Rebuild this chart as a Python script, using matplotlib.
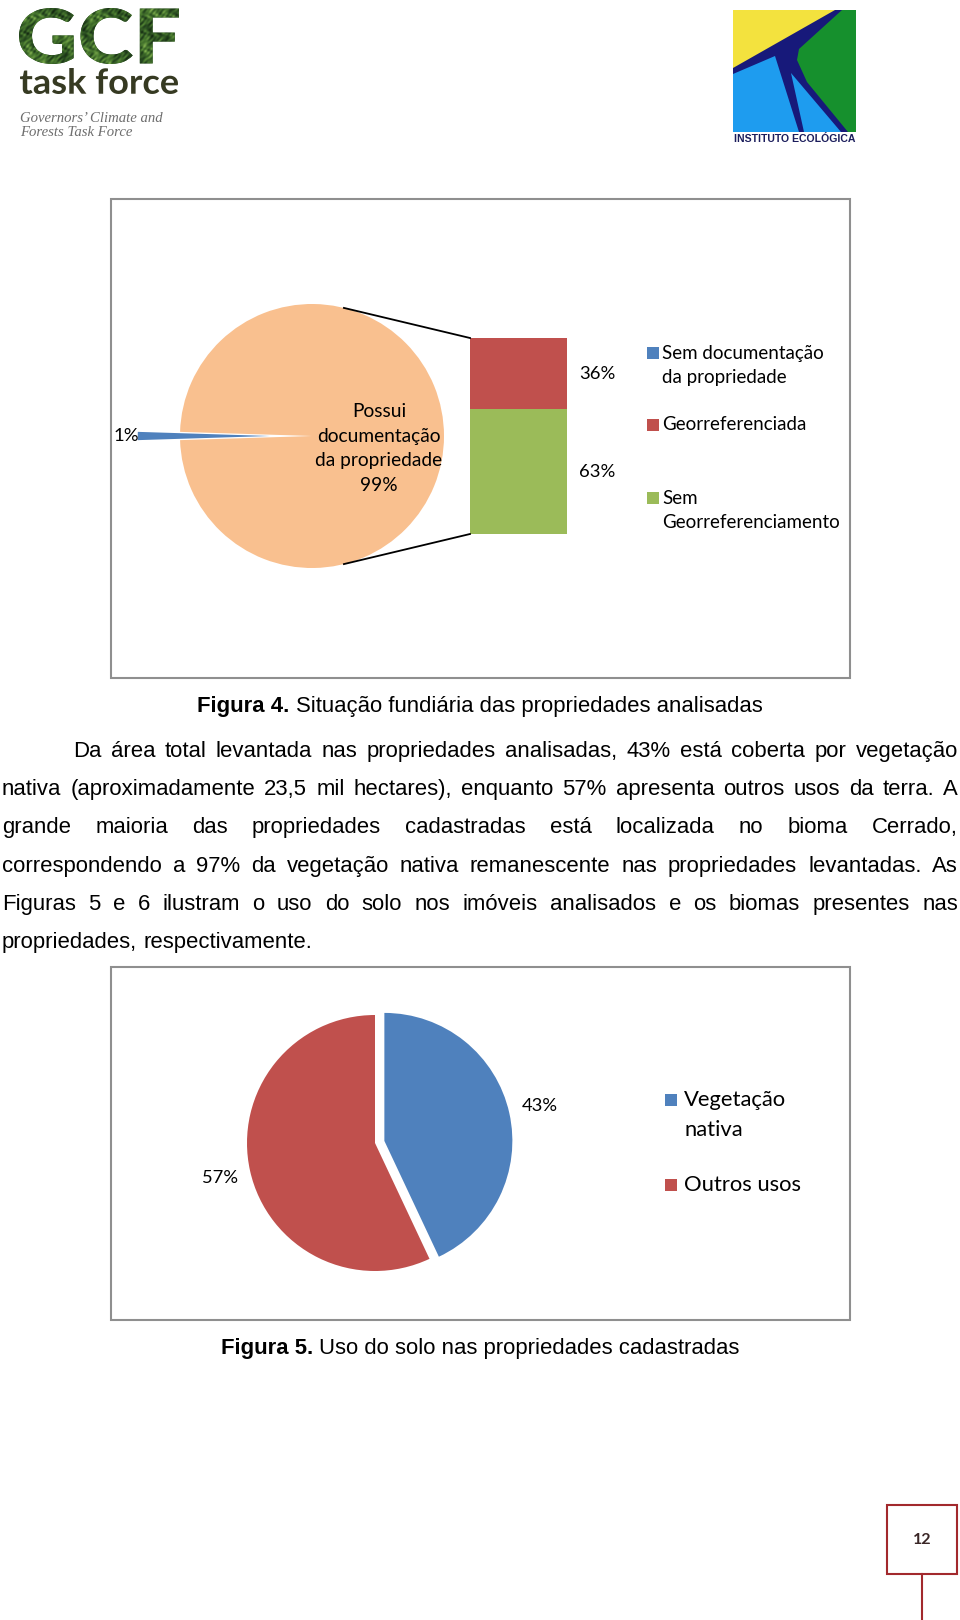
import numpy as np
import matplotlib
matplotlib.use("Agg")
import matplotlib.pyplot as plt
from matplotlib.patches import Rectangle, Polygon, PathPatch
from matplotlib.textpath import TextPath
from matplotlib.font_manager import FontProperties
from matplotlib.transforms import Affine2D
from matplotlib.colors import LinearSegmentedColormap

# ---------------- data ----------------
fig4_pie_labels = ["Sem documentação da propriedade", "Possui documentação da propriedade"]
fig4_pie_values = [1, 99]
fig4_bar_labels = ["Georreferenciada", "Sem Georreferenciamento"]
fig4_bar_values = [36, 63]
fig4_legend = ["Sem documentação\nda propriedade", "Georreferenciada", "Sem\nGeorreferenciamento"]
fig4_other_label = "Possui\ndocumentação\nda propriedade"

fig5_labels = ["Vegetação\nnativa", "Outros usos"]
fig5_values = [43, 57]

caption4 = ("Figura 4.", "Situação fundiária das propriedades analisadas")
caption5 = ("Figura 5.", "Uso do solo nas propriedades cadastradas")
body_lines = [
    "Da área total levantada nas propriedades analisadas, 43% está coberta por vegetação",
    "nativa (aproximadamente 23,5 mil hectares), enquanto 57% apresenta outros usos da terra. A",
    "grande maioria das propriedades cadastradas está localizada no bioma Cerrado,",
    "correspondendo a 97% da vegetação nativa remanescente nas propriedades levantadas. As",
    "Figuras 5 e 6 ilustram o uso do solo nos imóveis analisados e os biomas presentes nas",
    "propriedades, respectivamente.",
]
page_number = "12"

# ---------------- styles ----------------
BLUE, RED, GREEN, ORANGE = "#4f81bd", "#c0504d", "#9bbb59", "#f9c08f"
CHART_FONT = ["Lato", "DejaVu Sans"]
BODY_FONT = ["Liberation Sans", "DejaVu Sans"]
BOX_GRAY = "#8f8f8f"

W, H = 960, 1620
fig = plt.figure(figsize=(W / 100, H / 100), dpi=100)
fig.patch.set_facecolor("white")
bg = fig.add_axes([0, 0, 1, 1])
bg.set_xlim(0, W)
bg.set_ylim(H, 0)
bg.axis("off")
renderer = fig.canvas.get_renderer()


def px_axes(x0, x1, y0, y1, cx, cy, R):
    ax = fig.add_axes([x0 / W, 1 - y1 / H, (x1 - x0) / W, (y1 - y0) / H])
    return ax, ((x0 - cx) / R, (x1 - cx) / R), ((cy - y1) / R, (cy - y0) / R)


def text_w(s, **kw):
    t = bg.text(0, 0, s, **kw)
    w = t.get_window_extent(renderer).width
    t.remove()
    return w


# ---------------- logos ----------------
def path_in_box(s, prop, x0, y0, x1, y1):
    tp = TextPath((0, 0), s, size=100, prop=prop)
    ext = tp.get_extents()
    sx = (x1 - x0) / ext.width
    sy = (y1 - y0) / ext.height
    tr = Affine2D().translate(-ext.x0, -ext.y1).scale(sx, -sy).translate(x0, y0)
    return tr.transform_path(tp)


gcf_path = path_in_box("GCF", FontProperties(family="Lato", weight="black"), 19, 8, 179, 64)
gcf_patch = PathPatch(gcf_path, facecolor="#2a4d22", edgecolor="none", transform=bg.transData)
bg.add_patch(gcf_patch)
yy, xx = np.mgrid[0:112, 0:320]
tex = (0.45 + 0.22 * np.sin(xx * 0.31 + 2.5 * np.sin(yy * 0.19)) * np.cos(yy * 0.23 + xx * 0.07)
       + 0.14 * np.sin(xx * 0.71 + yy * 0.53) * np.sin(yy * 0.11 - xx * 0.043)
       + 0.10 * np.cos(xx * 0.05 - yy * 0.08))
cmap = LinearSegmentedColormap.from_list("forest", ["#0f1f0c", "#27491f", "#4c7d30", "#8fbb58"])
im = bg.imshow(tex, cmap=cmap, extent=(19, 179, 64, 8), aspect="auto", interpolation="bilinear", zorder=3)
im.set_clip_path(gcf_patch)
tf_path = path_in_box("task force", FontProperties(family="Lato", weight="bold"), 20, 68, 178, 94)
bg.add_patch(PathPatch(tf_path, facecolor="#363a22", edgecolor="none", transform=bg.transData))
bg.text(20, 118, "Governors\u2019 Climate and", family=["Liberation Serif", "DejaVu Serif"], style="italic",
        fontsize=10.6, color="#6e6e6e", va="center", ha="left")
bg.text(20, 133, "Forests Task Force", family=["Liberation Serif", "DejaVu Serif"], style="italic",
        fontsize=10.6, color="#6e6e6e", va="center", ha="left")

# Instituto Ecológica logo
NAVY, YEL, LGRN, LBLU = "#17197a", "#f3e23e", "#16902d", "#1e9cef"
bg.add_patch(Rectangle((733, 10), 123, 122, facecolor=NAVY, edgecolor="none"))
bg.add_patch(Polygon([(733, 10), (835, 10), (733, 68)], closed=True, facecolor=YEL, edgecolor="none"))
bg.add_patch(Polygon([(842, 10), (856, 10), (856, 132), (848, 132), (807, 82), (797, 60), (799, 49)],
                     closed=True, facecolor=LGRN, edgecolor="none"))
bg.add_patch(Polygon([(733, 74), (775, 56), (799, 132), (733, 132)], closed=True, facecolor=LBLU, edgecolor="none"))
bg.add_patch(Polygon([(791, 73), (804, 132), (841, 132)], closed=True, facecolor=LBLU, edgecolor="none"))
bg.text(794.5, 139, "INSTITUTO ECOLÓGICA", family=BODY_FONT, weight="bold", fontsize=7.6,
        color="#1b1d5c", ha="center", va="center")

# ---------------- chart boxes ----------------
bg.add_patch(Rectangle((110.6, 199.4), 738.9, 478.6, facecolor="white", edgecolor=BOX_GRAY, lw=1.5))
bg.add_patch(Rectangle((110.6, 967), 738.9, 353, facecolor="white", edgecolor=BOX_GRAY, lw=1.5))

# ---------------- Figure 4: pie of bar ----------------
cx, cy, R = 312, 436, 132
ax1, xl, yl = px_axes(115, 645, 205, 672, cx, cy, R)
frac_small = fig4_pie_values[0] / sum(fig4_pie_values)
start = 180 - 360 * frac_small / 2
ax1.pie(fig4_pie_values, colors=[BLUE, ORANGE], startangle=start, explode=[0.32, 0],
        wedgeprops=dict(linewidth=0), frame=False)
ax1.set_aspect("auto")
ax1.set_xlim(*xl)
ax1.set_ylim(*yl)
ax1.axis("off")

bar_x0, bar_w = (470 - cx) / R, (567 - cx) / R - (470 - cx) / R
bar_total_h = (534 - 338) / R
k = bar_total_h / sum(fig4_bar_values)
bottom = -bar_total_h / 2
ax1.bar([bar_x0], [fig4_bar_values[1] * k], width=bar_w, bottom=bottom, align="edge", color=GREEN, lw=0)
ax1.bar([bar_x0], [fig4_bar_values[0] * k], width=bar_w, bottom=bottom + fig4_bar_values[1] * k,
        align="edge", color=RED, lw=0)
ang = np.deg2rad(76)
ax1.plot([np.cos(ang), bar_x0], [np.sin(ang), bottom + bar_total_h], color="black", lw=1.3)
ax1.plot([np.cos(ang), bar_x0], [-np.sin(ang), bottom], color="black", lw=1.3)

PCT_FS = 13.3
lab_x = (597 - cx) / R
ax1.text(lab_x, bottom + fig4_bar_values[1] * k + fig4_bar_values[0] * k / 2, f"{fig4_bar_values[0]}%",
         ha="center", va="center", fontsize=PCT_FS, family=CHART_FONT)
ax1.text(lab_x, bottom + fig4_bar_values[1] * k / 2, f"{fig4_bar_values[1]}%",
         ha="center", va="center", fontsize=PCT_FS, family=CHART_FONT)
mid = np.deg2rad(start + 360 * frac_small / 2)
d = (cx - 126) / R
ax1.text(d * np.cos(mid), d * np.sin(mid), f"{fig4_pie_values[0]}%", ha="center", va="center",
         fontsize=PCT_FS, family=CHART_FONT)
ax1.text((379 - cx) / R, (cy - 448.5) / R, fig4_other_label + f"\n{fig4_pie_values[1]}%", ha="center",
         va="center", fontsize=13.8, family=CHART_FONT, linespacing=1.53)

# legend 1
LEG1_FS = 13.5
leg1_colors = [BLUE, RED, GREEN]
leg1_y = [353, 425, 498]
for lab, col, y in zip(fig4_legend, leg1_colors, leg1_y):
    bg.add_patch(Rectangle((647, y - 5.75), 11.5, 11.5, facecolor=col, edgecolor="none"))
    for i, line in enumerate(lab.split("\n")):
        bg.text(662, y + i * 25, line, ha="left", va="center", fontsize=LEG1_FS, family=CHART_FONT)

# ---------------- Figure 5 pie ----------------
cx2, cy2, R2 = 375, 1143, 128
ax2, xl2, yl2 = px_axes(115, 645, 975, 1315, cx2, cy2, R2)
ax2.pie(fig5_values, colors=[BLUE, RED], startangle=90, counterclock=False, explode=[0.075, 0],
        autopct=lambda p: f"{p:.0f}%", pctdistance=1.24,
        textprops=dict(fontsize=13.2, family=CHART_FONT), wedgeprops=dict(linewidth=0), frame=False)
ax2.set_aspect("auto")
ax2.set_xlim(*xl2)
ax2.set_ylim(*yl2)
ax2.axis("off")

leg2_colors = [BLUE, RED]
leg2_y = [1100, 1185]
for lab, col, y in zip(fig5_labels, leg2_colors, leg2_y):
    bg.add_patch(Rectangle((665, y - 6), 12, 12, facecolor=col, edgecolor="none"))
    for i, line in enumerate(lab.split("\n")):
        bg.text(684, y + i * 30, line, ha="left", va="center", fontsize=15.8, family=CHART_FONT)

# ---------------- captions & body text ----------------
BODY_FS = 15.9
body_kw = dict(family=BODY_FONT, fontsize=BODY_FS, color="black")
space_w = text_w("a a", **body_kw) - text_w("aa", **body_kw)


def caption(parts, baseline):
    wb = text_w(parts[0], weight="bold", **body_kw)
    wr = text_w(parts[1], **body_kw)
    x0 = 480 - (wb + space_w + wr) / 2
    bg.text(x0, baseline, parts[0], weight="bold", ha="left", va="baseline", **body_kw)
    bg.text(x0 + wb + space_w, baseline, parts[1], ha="left", va="baseline", **body_kw)


caption(caption4, 712)
caption(caption5, 1354)

line_h = 38.2
for i, line in enumerate(body_lines):
    base = 757 + i * line_h
    left = 73 if i == 0 else 2
    right = 958
    words = line.split()
    widths = [text_w(w_, **body_kw) for w_ in words]
    last = i == len(body_lines) - 1
    gap = space_w if last else (right - left - sum(widths)) / (len(words) - 1)
    x = left
    for w_, wd in zip(words, widths):
        bg.text(x, base, w_, ha="left", va="baseline", **body_kw)
        x += wd + gap

# ---------------- page number ----------------
PRED = "#a2292d"
bg.add_patch(Rectangle((887, 1505), 70, 69, facecolor="white", edgecolor=PRED, lw=1.5))
bg.plot([922, 922], [1574, 1620], color=PRED, lw=1.5)
bg.text(922, 1540, page_number, ha="center", va="center", fontsize=11.5, weight="bold",
        family=CHART_FONT, color="#3a2626")

fig.savefig("out.png", dpi=100, facecolor="white")
